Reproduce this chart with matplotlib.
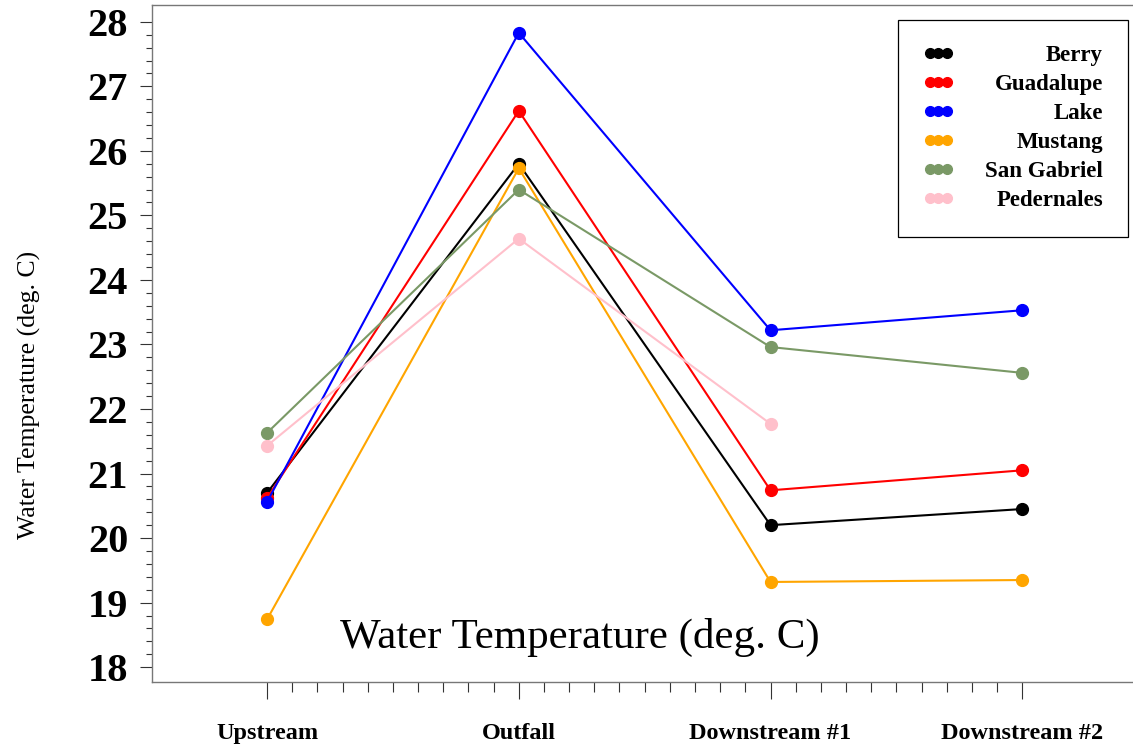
import matplotlib as mpl
import matplotlib.pyplot as plt
import numpy as np
from matplotlib.lines import Line2D
from matplotlib.ticker import FixedLocator

mpl.rcParams.update(
    {
        "font.family": ["Liberation Serif", "DejaVu Serif"],
        "axes.edgecolor": "#777777",
        "axes.linewidth": 1.0,
    }
)

sites = ["Upstream", "Outfall", "Downstream #1", "Downstream #2"]
rivers = ["Berry", "Guadalupe", "Lake", "Mustang", "San Gabriel", "Pedernales"]
berry = [20.70, 25.80, 20.20, 20.45]
guadalupe = [20.62, 26.62, 20.74, 21.05]
lake = [20.56, 27.83, 23.22, 23.53]
mustang = [18.74, 25.73, 19.32, 19.35]
san_gabriel = [21.63, 25.40, 22.96, 22.56]
pedernales = [21.43, 24.64, 21.77, np.nan]
colors = ["black", "red", "blue", "orange", "#7a9966", "pink"]

series = [berry, guadalupe, lake, mustang, san_gabriel, pedernales]

fig = plt.figure(figsize=(11.33, 7.48), dpi=100)
ax = fig.add_axes([152 / 1133, 66 / 748, 981 / 1133, 677 / 748])

x = np.arange(1, len(sites) + 1)
for values, color in zip(series, colors):
    ax.plot(x, values, color=color, linewidth=1.5, marker="o", markersize=8.5)

ax.set_xlim(0.543, 4.44)
ax.set_ylim(17.77, 28.26)
ax.spines["right"].set_visible(False)

ax.set_xticks(x)
ax.set_xticklabels(sites, fontsize=17.5, fontweight="bold")
ax.xaxis.set_minor_locator(FixedLocator([v for v in np.arange(1, 4.001, 0.1) if abs(v - round(v)) > 0.01]))
ax.tick_params(axis="x", which="major", direction="out", length=12.2, width=0.8, pad=17, colors="#333333", labelcolor="black")
ax.tick_params(axis="x", which="minor", direction="out", length=7.2, width=0.8, colors="#333333")

yt = np.arange(18, 29)
ax.set_yticks(yt)
ax.set_yticklabels([str(v) for v in yt], fontsize=29, fontweight="bold")
ax.yaxis.set_minor_locator(FixedLocator([v for v in np.arange(18, 28.001, 0.2) if abs(v - round(v)) > 0.01]))
ax.tick_params(axis="y", which="major", direction="out", length=8.6, width=0.8, pad=8.6, colors="#333333", labelcolor="black")
ax.tick_params(axis="y", which="minor", direction="out", length=4.3, width=0.8, colors="#333333")

ax.set_ylabel("Water Temperature (deg. C)", fontsize=18.5)
ax.yaxis.set_label_coords(-0.113, 0.424)

ax.text(0.436, 0.066, "Water Temperature (deg. C)", transform=ax.transAxes,
        ha="center", va="center", fontsize=31)

handles = [Line2D([], [], color=c, marker="o", markersize=7, linestyle="none") for c in colors]
leg = ax.legend(
    handles, rivers, loc="upper right", bbox_to_anchor=(0.995, 0.978), borderaxespad=0,
    numpoints=3, handlelength=1.34, handletextpad=1.37, labelspacing=0.35, borderpad=1.1,
    fancybox=False, framealpha=1, edgecolor="black", prop={"size": 16.5, "weight": "bold"},
)
leg.get_frame().set_linewidth(0.9)

# right-align the legend labels inside their column
fig.canvas.draw()
texts = leg.get_texts()
widths = [t.get_window_extent().width for t in texts]
maxw = max(widths)
for t, w in zip(texts, widths):
    t.set_position((maxw - w, 0))

fig.savefig("out.png", dpi=100, facecolor="white")
